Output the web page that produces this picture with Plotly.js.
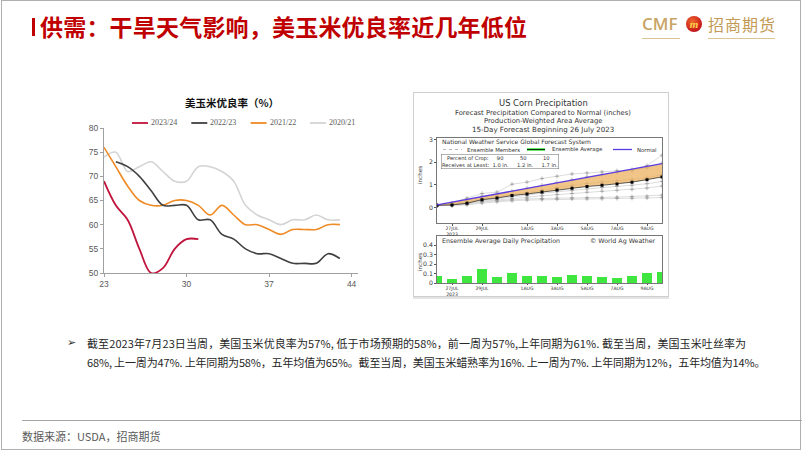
<!DOCTYPE html>
<html><head><meta charset="utf-8">
<script src="https://cdn.plot.ly/plotly-3.0.1.min.js"></script>
<style>
html,body{margin:0;padding:0;background:#fff;}
#slide{position:relative;width:802px;height:451px;overflow:hidden;background:#fff;font-family:"Noto Sans CJK SC","Noto Sans",sans-serif;}
#frame{position:absolute;left:1px;top:0;width:800px;height:450px;border:1px solid #b0b0b0;box-sizing:border-box;}
#bar{position:absolute;left:32px;top:18px;width:3px;height:18px;background:#C00000;}
#title{position:absolute;left:40px;top:14px;font-size:23px;line-height:25px;font-weight:bold;color:#C00000;white-space:nowrap;letter-spacing:0.2px;}
#cmf{position:absolute;left:642px;top:13px;font-family:"Open Sans","Liberation Sans",sans-serif;font-weight:600;font-size:17px;line-height:22px;color:#C9A466;}
#logo{position:absolute;left:686px;top:16px;width:16px;height:16px;border-radius:50%;background:radial-gradient(circle at 40% 35%,#F26A2A,#C4161C 70%);color:#FFD34D;font:italic bold 11px/16px "Liberation Serif",serif;text-align:center;}
#cmfname{position:absolute;left:708px;top:12px;font-size:16px;line-height:24px;font-weight:400;color:#C29A55;letter-spacing:1px;white-space:nowrap;}
.uline{position:absolute;top:38px;height:1px;background:#DCC594;}
#left{position:absolute;left:80px;top:90px;width:285px;height:200px;}
#rightbox{position:absolute;left:413px;top:92px;width:256px;height:205px;border:1px solid #cfcfcf;box-sizing:border-box;box-shadow:0 2px 0 #e4e4e4;background:#fff;}
#right{position:absolute;left:414px;top:93px;width:255px;height:204px;}
#arrow{position:absolute;left:67px;top:335px;font-size:11px;line-height:16px;color:#333;font-family:"DejaVu Sans",sans-serif;}
#para{position:absolute;left:87px;top:334px;font-size:11px;line-height:19px;color:#262626;white-space:nowrap;letter-spacing:0.1px;}
#para .l2{letter-spacing:-0.15px;}
#sep{position:absolute;left:22px;top:420px;width:780px;height:1px;background:#a6a6a6;}
#source{position:absolute;left:22px;top:428px;font-size:11px;line-height:16px;color:#595959;white-space:nowrap;}
</style></head>
<body>
<div id="slide">
  <div id="frame"></div>
  <div id="bar"></div>
  <div id="title">供需：干旱天气影响，美玉米优良率近几年低位</div>
  <div id="cmf">CMF</div>
  <div id="logo">m</div>
  <div id="cmfname">招商期货</div>
  <div class="uline" style="left:642px;width:38px;"></div>
  <div class="uline" style="left:708px;width:67px;"></div>
  <div id="left"></div>
  <div id="rightbox"></div>
  <div id="right"></div>
  <div id="arrow">➢</div>
  <div id="para">截至2023年7月23日当周，美国玉米优良率为57%, 低于市场预期的58%，前一周为57%,上年同期为61%. 截至当周，美国玉米吐丝率为<br><span class="l2">68%, 上一周为47%. 上年同期为58%，五年均值为65%。截至当周，美国玉米蜡熟率为16%. 上一周为7%. 上年同期为12%，五年均值为14%。</span></div>
  <div id="sep"></div>
  <div id="source">数据来源：USDA，招商期货</div>
</div>
<script>
// ---------- Left chart data: US corn good/excellent rating (%) by week ----------
const chartTitle = '美玉米优良率（%）';
const seriesNames = ['2023/24', '2022/23', '2021/22', '2020/21'];
const weeks2324 = [23, 24, 25, 26, 27, 28, 29, 30, 31];
const rating2324 = [69, 64, 61, 55, 50, 51, 55, 57, 57];
const weeks2223 = [24, 25, 26, 27, 28, 29, 30, 31, 32, 33, 34, 35, 36, 37, 38, 39, 40, 41, 42, 43];
const rating2223 = [73, 72, 70, 67, 64, 64, 64, 61, 61, 58, 57, 55, 54, 54, 53, 52, 52, 52, 54, 53];
const weeks2122 = [23, 24, 25, 26, 27, 28, 29, 30, 31, 32, 33, 34, 35, 36, 37, 38, 39, 40, 41, 42, 43];
const rating2122 = [76, 72, 68, 65, 64, 64, 65, 65, 64, 62, 64, 62, 60, 60, 59, 58, 59, 59, 59, 60, 60];
const weeks2021 = [23, 24, 25, 26, 27, 28, 29, 30, 31, 32, 33, 34, 35, 36, 37, 38, 39, 40, 41, 42, 43];
const rating2021 = [74, 75, 71, 72, 73, 71, 69, 69, 72, 72, 71, 69, 64, 62, 61, 60, 61, 61, 62, 61, 61];
const weekTicks = [23, 30, 37, 44];
const ratingTicks = [50, 55, 60, 65, 70, 75, 80];

// ---------- Right chart data: US corn precipitation forecast ----------
const forecastDates = ['2023-07-26', '2023-07-27', '2023-07-28', '2023-07-29', '2023-07-30', '2023-07-31',
  '2023-08-01', '2023-08-02', '2023-08-03', '2023-08-04', '2023-08-05', '2023-08-06', '2023-08-07',
  '2023-08-08', '2023-08-09', '2023-08-10'];
const normalPrecip = [0.12, 0.24, 0.37, 0.49, 0.61, 0.73, 0.85, 0.97, 1.09, 1.21, 1.33, 1.45, 1.57, 1.69, 1.81, 1.93];
const ensembleAvg = [0.10, 0.12, 0.19, 0.35, 0.42, 0.53, 0.60, 0.69, 0.77, 0.85, 0.93, 0.98, 1.04, 1.12, 1.23, 1.35];
const member1 = [0.10, 0.20, 0.42, 0.62, 0.68, 1.03, 1.12, 1.28, 1.38, 1.48, 1.52, 1.57, 1.62, 1.67, 1.85, 2.30];
const member2 = [0.10, 0.16, 0.33, 0.50, 0.55, 0.72, 0.85, 0.98, 1.10, 1.22, 1.35, 1.45, 1.55, 1.62, 1.75, 1.95];
const member3 = [0.10, 0.14, 0.25, 0.38, 0.45, 0.58, 0.66, 0.78, 0.88, 0.98, 1.06, 1.12, 1.18, 1.24, 1.32, 1.45];
const member4 = [0.09, 0.12, 0.20, 0.32, 0.38, 0.48, 0.55, 0.63, 0.70, 0.76, 0.82, 0.88, 0.93, 0.98, 1.05, 1.15];
const member5 = [0.09, 0.11, 0.17, 0.28, 0.33, 0.40, 0.46, 0.52, 0.57, 0.62, 0.68, 0.72, 0.76, 0.80, 0.86, 0.95];
const member6 = [0.08, 0.10, 0.15, 0.25, 0.30, 0.35, 0.38, 0.40, 0.42, 0.43, 0.44, 0.45, 0.46, 0.48, 0.50, 0.55];
const member7 = [0.08, 0.09, 0.12, 0.20, 0.26, 0.30, 0.33, 0.35, 0.37, 0.38, 0.38, 0.39, 0.40, 0.41, 0.42, 0.44];
const dailyPrecip = [0.077, 0.043, 0.070, 0.143, 0.067, 0.110, 0.070, 0.073, 0.067, 0.083, 0.077, 0.063, 0.050, 0.070, 0.107, 0.117];
const dateTickVals = ['2023-07-27', '2023-07-29', '2023-08-01', '2023-08-03', '2023-08-05', '2023-08-07', '2023-08-09'];
const dateTickText = ['27JUL<br>2023', '29JUL', '1AUG', '3AUG', '5AUG', '7AUG', '9AUG'];
const upperTicks = [0, 1, 2, 3];
const lowerTicks = [0, 0.1, 0.2, 0.3, 0.4];
const rightTitles = ['US Corn Precipitation', 'Forecast Precipitation Compared to Normal (inches)',
  'Production-Weighted Area Average', '15-Day Forecast Beginning 26 July 2023'];
const legendLabels = ['Ensemble Members', 'Ensemble Average', 'Normal'];

// ================= LEFT CHART =================
(function () {
  const W = 285, H = 200, M = {l: 24, r: 7, t: 38, b: 17};
  const pw = W - M.l - M.r, ph = H - M.t - M.b;
  const px = x => (x - M.l) / pw;
  const py = y => 1 - (y - M.t) / ph;
  const colors = ['#C0143C', '#404040', '#F08A24', '#D4D4D4'];
  const xs = [weeks2324, weeks2223, weeks2122, weeks2021];
  const ys = [rating2324, rating2223, rating2122, rating2021];
  const widths = [1.8, 1.6, 1.6, 1.6];
  const traces = [];
  for (let i = 3; i >= 0; i--) {
    traces.push({x: xs[i], y: ys[i], name: seriesNames[i], type: 'scatter', mode: 'lines',
      line: {color: colors[i], width: widths[i], shape: 'spline', smoothing: 1}, hoverinfo: 'skip'});
  }
  const shapes = [], annotations = [];
  seriesNames.forEach((n, i) => {
    const x0 = 52 + i * 59.3;
    shapes.push({type: 'line', xref: 'paper', yref: 'paper', x0: px(x0), x1: px(x0 + 16), y0: py(33), y1: py(33),
      line: {color: colors[i], width: 1.8}});
    annotations.push({xref: 'paper', yref: 'paper', x: px(x0 + 17), y: py(33), xanchor: 'left', yanchor: 'middle',
      text: n, showarrow: false, font: {family: 'Liberation Serif, serif', size: 8, color: '#595959'}});
  });
  annotations.push({xref: 'paper', yref: 'paper', x: px(152), y: py(13), xanchor: 'center', yanchor: 'middle',
    text: '<b>' + chartTitle + '</b>', showarrow: false, font: {family: 'Noto Sans CJK SC', size: 10.5, color: '#111'}});
  const axisFont = {family: 'Liberation Sans, Arial', size: 8.5, color: '#595959'};
  const layout = {
    width: W, height: H, margin: M, showlegend: false,
    paper_bgcolor: 'rgba(0,0,0,0)', plot_bgcolor: 'rgba(0,0,0,0)',
    xaxis: {range: [23, 44.54], tickvals: weekTicks, ticks: 'outside', ticklen: 3, tickcolor: '#a0a0a0',
      showline: true, linecolor: '#a0a0a0', linewidth: 1, showgrid: false, zeroline: false, tickfont: axisFont},
    yaxis: {range: [50, 80], tickvals: ratingTicks, ticks: 'outside', ticklen: 3, tickcolor: '#a0a0a0',
      showline: true, linecolor: '#a0a0a0', linewidth: 1, showgrid: false, zeroline: false, tickfont: axisFont},
    shapes: shapes, annotations: annotations
  };
  Plotly.newPlot('left', traces, layout, {staticPlot: true, displayModeBar: false});
})();

// ================= RIGHT CHART =================
(function () {
  const W = 255, H = 204, M = {l: 23, r: 7, t: 45, b: 14};
  const pw = W - M.l - M.r, ph = H - M.t - M.b;
  const px = x => (x - M.l) / pw;
  const py = y => 1 - (y - M.t) / ph;
  const members = [member1, member2, member3, member4, member5, member6, member7];
  const traces = [];
  members.forEach(m => traces.push({x: forecastDates, y: m, type: 'scatter', mode: 'lines+markers',
    line: {color: '#c4c4c4', width: 0.6}, marker: {symbol: 'cross-thin-open', size: 3, color: '#888', line: {width: 0.6, color: '#888'}},
    xaxis: 'x', yaxis: 'y', hoverinfo: 'skip'}));
  traces.push({x: forecastDates, y: ensembleAvg, type: 'scatter', mode: 'lines+markers',
    line: {color: '#333', width: 0.8}, marker: {symbol: 'square', size: 3, color: '#000'}, xaxis: 'x', yaxis: 'y', hoverinfo: 'skip'});
  traces.push({x: forecastDates, y: normalPrecip, type: 'scatter', mode: 'lines', fill: 'tonexty',
    fillcolor: 'rgba(236,176,96,0.75)', line: {color: '#5A3BE0', width: 1.3}, xaxis: 'x', yaxis: 'y', hoverinfo: 'skip'});
  traces.push({x: forecastDates, y: dailyPrecip, type: 'bar', marker: {color: '#40E640'},
    width: 0.66 * 86400000, xaxis: 'x2', yaxis: 'y2', hoverinfo: 'skip'});

  const f = {family: 'DejaVu Sans, sans-serif', color: '#333'};
  const tickF = Object.assign({}, f, {size: 4.6});
  const xbase = {type: 'date', range: ['2023-07-26', '2023-08-10'], tickvals: dateTickVals, ticktext: dateTickText,
    tickfont: tickF, ticks: 'outside', ticklen: 1.5, tickcolor: '#555', showline: true, mirror: true, ticklabelstandoff: -1,
    linecolor: '#555', linewidth: 0.8, showgrid: false, zeroline: false};
  const ybase = {tickfont: Object.assign({}, f, {size: 6.2}), ticks: 'outside', ticklen: 2, tickcolor: '#555', showline: true,
    mirror: true, linecolor: '#555', linewidth: 0.8, showgrid: false, zeroline: false};
  const layout = {
    width: W, height: H, margin: M, showlegend: false,
    paper_bgcolor: 'rgba(0,0,0,0)', plot_bgcolor: '#fff', bargap: 0,
    xaxis: Object.assign({}, xbase, {anchor: 'y'}),
    yaxis: Object.assign({}, ybase, {domain: [py(130.3), 1], range: [-0.69, 3.06], tickvals: upperTicks, anchor: 'x'}),
    xaxis2: Object.assign({}, xbase, {anchor: 'y2'}),
    yaxis2: Object.assign({}, ybase, {domain: [0, py(142.7)], range: [0, 0.5], tickvals: lowerTicks,
      ticktext: lowerTicks.map(v => v === 0 ? '0' : String(v)), anchor: 'x2'}),
    shapes: [], annotations: []
  };
  const A = layout.annotations, S = layout.shapes;
  const titleY = [10, 20, 28.5, 36.3];
  const titleSize = [8.4, 6.8, 6.8, 7.1];
  rightTitles.forEach((t, i) => A.push({xref: 'paper', yref: 'paper', x: px(129), y: py(titleY[i]),
    xanchor: 'center', yanchor: 'middle', text: t, showarrow: false, font: Object.assign({}, f, {size: titleSize[i]})}));
  A.push({xref: 'paper', yref: 'paper', x: px(26), y: py(49.5), xanchor: 'left', yanchor: 'middle',
    text: 'National Weather Service Global Forecast System', showarrow: false, font: Object.assign({}, f, {size: 6})});
  // manual legend row
  const ly = py(56.5);
  const small = Object.assign({}, f, {size: 5.4});
  S.push({type: 'line', xref: 'paper', yref: 'paper', x0: px(29), x1: px(48), y0: ly, y1: ly, line: {color: '#888', width: 0.6, dash: 'dot'}});
  S.push({type: 'rect', xref: 'paper', yref: 'paper', x0: px(113), x1: px(131), y0: py(57.8), y1: py(55.2), fillcolor: '#40E640', line: {width: 0}});
  S.push({type: 'line', xref: 'paper', yref: 'paper', x0: px(113), x1: px(131), y0: ly, y1: ly, line: {color: '#000', width: 0.8}});
  S.push({type: 'line', xref: 'paper', yref: 'paper', x0: px(199), x1: px(218), y0: ly, y1: ly, line: {color: '#5A3BE0', width: 1.3}});
  const lx = [51, 136, 221];
  legendLabels.forEach((t, i) => A.push({xref: 'paper', yref: 'paper', x: px(lx[i]), y: ly, xanchor: 'left', yanchor: 'middle',
    text: t, showarrow: false, font: small}));
  const sp = n => '\u00A0'.repeat(n);
  A.push({xref: 'paper', yref: 'paper', x: px(27), y: py(61), xanchor: 'left', yanchor: 'top', showarrow: false,
    text: sp(3) + 'Percent of Crop:' + sp(5) + '90' + sp(10) + '50' + sp(10) + '10' + '<br>Receives at Least:' + sp(2) + '1.0 in.' + sp(5) + '1.2 in.' + sp(5) + '1.7 in.',
    align: 'left', bordercolor: '#666', borderwidth: 0.5, borderpad: 0.5, font: Object.assign({}, f, {size: 5.2})});
  A.push({xref: 'paper', yref: 'paper', x: px(26), y: py(148), xanchor: 'left', yanchor: 'middle',
    text: 'Ensemble Average Daily Precipitation', showarrow: false, font: Object.assign({}, f, {size: 6.3})});
  A.push({xref: 'paper', yref: 'paper', x: px(244), y: py(148), xanchor: 'right', yanchor: 'middle',
    text: '© World Ag Weather', showarrow: false, font: Object.assign({}, f, {size: 6.3})});
  A.push({xref: 'paper', yref: 'paper', x: px(6), y: py(82), textangle: -90, xanchor: 'center', yanchor: 'middle',
    text: 'inches', showarrow: false, font: Object.assign({}, f, {size: 5.6})});
  A.push({xref: 'paper', yref: 'paper', x: px(6), y: py(169), textangle: -90, xanchor: 'center', yanchor: 'middle',
    text: 'inches', showarrow: false, font: Object.assign({}, f, {size: 5.6})});
  Plotly.newPlot('right', traces, layout, {staticPlot: true, displayModeBar: false});
})();
</script>
</body></html>
